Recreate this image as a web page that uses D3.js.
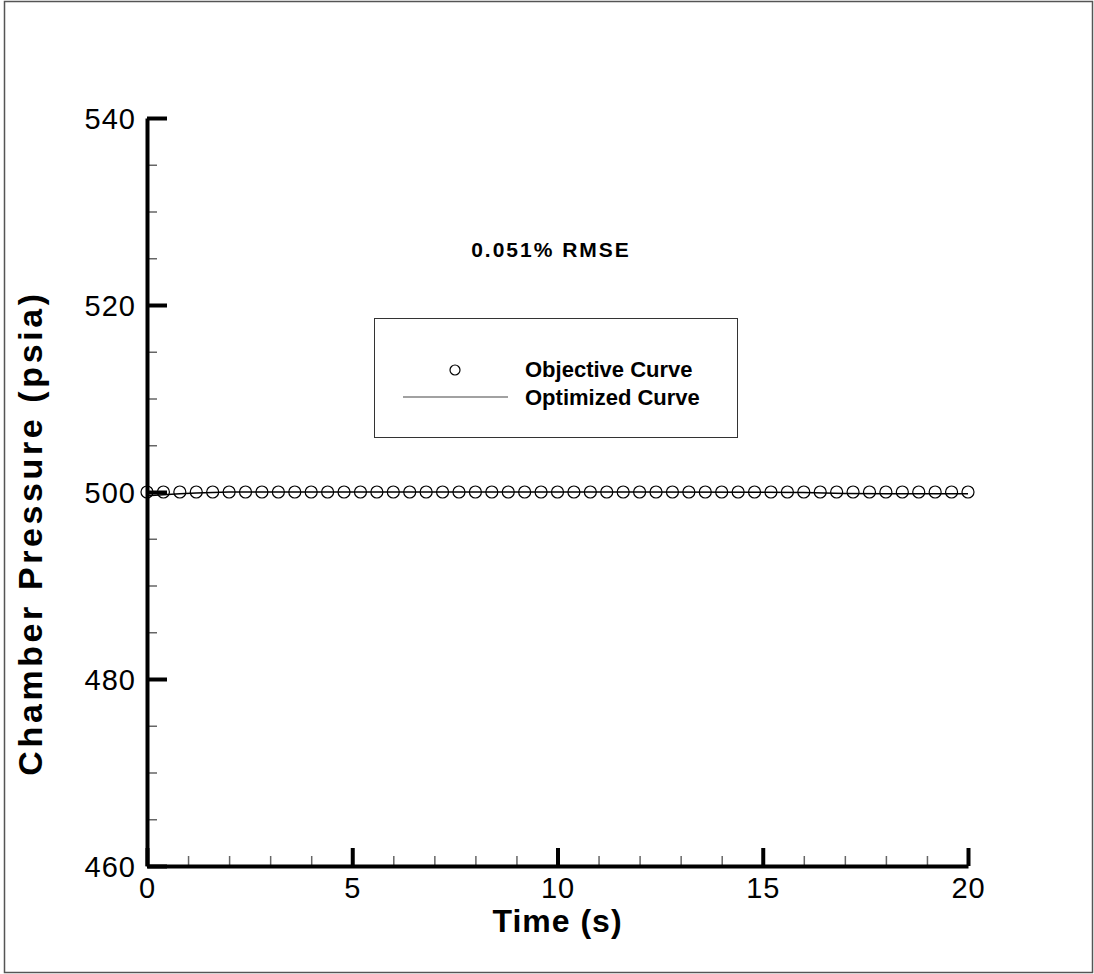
<!DOCTYPE html>
<html>
  <head>
    <meta charset="utf-8">
    <script src="https://cdn.jsdelivr.net/npm/d3@7"></script>
    <style type="text/css">
      body { margin: 0; background: #fff; }
      text { font-family: "Liberation Sans", Arial, sans-serif; fill: #000; }
      .tick-label { font-size: 29px; letter-spacing: 1px; }
      .bold { font-weight: bold; }
      .axis-major line, .axis-major path { stroke: #000; stroke-width: 4; }
      .axis-minor line { stroke: #666; stroke-width: 1.5; }
      .axis-minor path { display: none; }
    </style>
  </head>
  <body>
    <div class="plot_canvas"></div>
    <script>
      // objective curve samples (every 0.4 s)
      var obj_time = [0, 0.4, 0.8, 1.2, 1.6, 2, 2.4, 2.8, 3.2, 3.6, 4, 4.4, 4.8, 5.2, 5.6, 6, 6.4, 6.8,
        7.2, 7.6, 8, 8.4, 8.8, 9.2, 9.6, 10, 10.4, 10.8, 11.2, 11.6, 12, 12.4, 12.8, 13.2, 13.6, 14,
        14.4, 14.8, 15.2, 15.6, 16, 16.4, 16.8, 17.2, 17.6, 18, 18.4, 18.8, 19.2, 19.6, 20];
      var obj_pressure = [500, 500, 500, 500, 500, 500, 500, 500, 500, 500, 500, 500, 500, 500, 500,
        500, 500, 500, 500, 500, 500, 500, 500, 500, 500, 500, 500, 500, 500, 500, 500, 500, 500, 500,
        500, 500, 500, 500, 500, 500, 500, 500, 500, 500, 500, 500, 500, 500, 500, 500, 500];

      // optimized curve
      var opt_time = [0, 0.4, 0.8, 1.2, 1.6, 2, 4, 8, 12, 16, 17, 18, 19, 20];
      var opt_pressure = [499.6, 499.7, 499.8, 499.9, 499.95, 500, 500, 500, 500, 499.95, 499.85, 499.8, 499.8, 499.8];

      var x_major = [0, 5, 10, 15, 20];
      var x_minor = [1, 2, 3, 4, 6, 7, 8, 9, 11, 12, 13, 14, 16, 17, 18, 19];
      var y_major = [460, 480, 500, 520, 540];
      var y_minor = [465, 470, 475, 485, 490, 495, 505, 510, 515, 525, 530, 535];

      var rmse_label = "0.051% RMSE";
      var legend_labels = ["Objective Curve", "Optimized Curve"];

      var width = 1094;
      var height = 974;
      var margin = {top: 118, right: 126, bottom: 108, left: 147};

      var xScale = d3.scaleLinear()
      .domain([0, 20])
      .range([margin.left, width - margin.right]);

      var yScale = d3.scaleLinear()
      .domain([460, 540])
      .range([height - margin.bottom, margin.top]);

      var svg = d3.select(".plot_canvas")
      .append("svg")
      .attr("width", width)
      .attr("height", height);

      // outer frame
      svg.append("rect")
      .attr("x", 4.5).attr("y", 1.5)
      .attr("width", width - 6).attr("height", height - 3)
      .attr("fill", "none")
      .attr("stroke", "#555")
      .attr("stroke-width", 1.5);

      // minor ticks
      svg.append("g")
      .attr("class", "axis-minor")
      .attr("transform", "translate(0," + yScale(460) + ")")
      .call(d3.axisBottom(xScale).tickValues(x_minor).tickSize(-10).tickFormat(""));

      svg.append("g")
      .attr("class", "axis-minor")
      .attr("transform", "translate(" + xScale(0) + ",0)")
      .call(d3.axisLeft(yScale).tickValues(y_minor).tickSize(-10).tickFormat(""));

      // major axes
      var xAxis = svg.append("g")
      .attr("class", "axis-major")
      .attr("transform", "translate(0," + yScale(460) + ")")
      .call(d3.axisBottom(xScale).tickValues(x_major).tickSizeInner(-18).tickSizeOuter(0).tickPadding(0));
      xAxis.selectAll("text")
      .attr("class", "tick-label")
      .attr("y", 32)
      .attr("dy", 0)
      .attr("stroke", "none");

      var yAxis = svg.append("g")
      .attr("class", "axis-major")
      .attr("transform", "translate(" + xScale(0) + ",0)")
      .call(d3.axisLeft(yScale).tickValues(y_major).tickSizeInner(-20).tickSizeOuter(0).tickPadding(0));
      yAxis.selectAll("text")
      .attr("class", "tick-label")
      .attr("x", -11)
      .attr("dy", 10)
      .attr("stroke", "none");
      svg.selectAll(".axis-major").attr("font-family", null).attr("font-size", null);

      // optimized curve
      var line = d3.line()
      .x(function(d, i) { return xScale(opt_time[i]); })
      .y(function(d) { return yScale(d); });

      svg.append("path")
      .attr("d", line(opt_pressure))
      .attr("fill", "none")
      .attr("stroke", "#000")
      .attr("stroke-width", 1.5);

      // objective curve
      svg.append("g").selectAll("circle")
      .data(obj_pressure).enter()
      .append("circle")
      .attr("cx", function(d, i) { return xScale(obj_time[i]); })
      .attr("cy", function(d) { return yScale(d); })
      .attr("r", 6)
      .attr("fill", "none")
      .attr("stroke", "#000")
      .attr("stroke-width", 1.2);

      // axis titles
      svg.append("text")
      .attr("class", "bold")
      .attr("x", (xScale(0) + xScale(20)) / 2)
      .attr("y", 932)
      .attr("text-anchor", "middle")
      .attr("font-size", "32px")
      .attr("letter-spacing", "1px")
      .text("Time (s)");

      svg.append("text")
      .attr("class", "bold")
      .attr("transform", "translate(42,533) rotate(-90)")
      .attr("text-anchor", "middle")
      .attr("font-size", "34px")
      .attr("letter-spacing", "3.6px")
      .text("Chamber Pressure (psia)");

      // RMSE annotation
      svg.append("text")
      .attr("class", "bold")
      .attr("x", 551)
      .attr("y", 257)
      .attr("text-anchor", "middle")
      .attr("font-size", "21px")
      .attr("letter-spacing", "2px")
      .text(rmse_label);

      // legend
      var legend = svg.append("g");
      legend.append("rect")
      .attr("x", 374.5).attr("y", 318.5)
      .attr("width", 363).attr("height", 119)
      .attr("fill", "#fff")
      .attr("stroke", "#333")
      .attr("stroke-width", 1);
      legend.append("circle")
      .attr("cx", 455).attr("cy", 370).attr("r", 5)
      .attr("fill", "none").attr("stroke", "#000").attr("stroke-width", 1.2);
      legend.append("line")
      .attr("x1", 403).attr("x2", 508).attr("y1", 397).attr("y2", 397)
      .attr("stroke", "#444").attr("stroke-width", 1.2);
      legend.selectAll(".legend-text")
      .data(legend_labels).enter()
      .append("text")
      .attr("class", "bold")
      .attr("x", 525)
      .attr("y", function(d, i) { return 377 + i * 28; })
      .attr("font-size", "22px")
      .text(function(d) { return d; });
    </script>
  </body>
</html>
